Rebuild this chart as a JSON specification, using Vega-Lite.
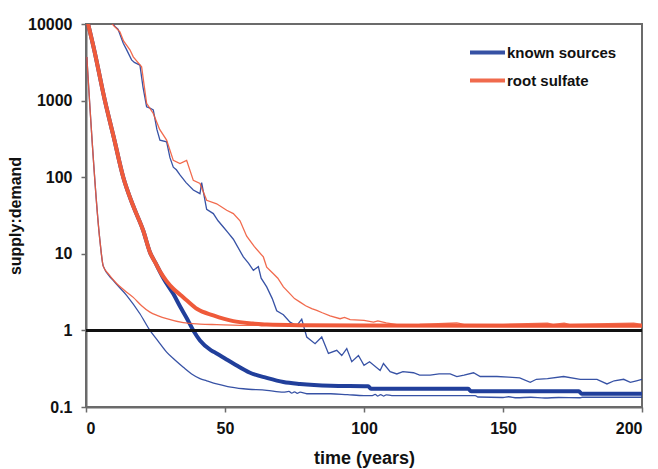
{
  "$schema": "https://vega.github.io/schema/vega-lite/v6.json",
  "width": 556,
  "height": 383,
  "autosize": {"type": "none"},
  "padding": {"left": 86, "top": 24, "right": 16, "bottom": 62},
  "background": "white",
  "config": {
    "font": "Liberation Sans",
    "view": {"stroke": "#6b6b6b", "strokeWidth": 2},
    "axis": {
      "grid": false,
      "domainColor": "#6b6b6b",
      "domainWidth": 2,
      "tickColor": "#6b6b6b",
      "tickWidth": 1.5,
      "tickSize": 5,
      "labelFont": "Liberation Sans",
      "labelFontSize": 16,
      "labelFontWeight": "bold",
      "labelColor": "#111",
      "titleFont": "Liberation Sans",
      "titleFontWeight": "bold",
      "titleColor": "#111"
    },
    "legend": {
      "labelFont": "Liberation Sans",
      "labelFontSize": 15,
      "labelFontWeight": "bold",
      "labelColor": "#111"
    }
  },
  "data": {
    "values": [
      {"g": "known sources", "k": "median", "t": 0, "v": 13000},
      {"g": "known sources", "k": "median", "t": 3, "v": 4500},
      {"g": "known sources", "k": "median", "t": 6.8, "v": 1000},
      {"g": "known sources", "k": "median", "t": 10, "v": 330},
      {"g": "known sources", "k": "median", "t": 13.4, "v": 100},
      {"g": "known sources", "k": "median", "t": 17, "v": 42},
      {"g": "known sources", "k": "median", "t": 20.6, "v": 20},
      {"g": "known sources", "k": "median", "t": 23, "v": 10.5},
      {"g": "known sources", "k": "median", "t": 25, "v": 7.6},
      {"g": "known sources", "k": "median", "t": 28, "v": 4.7},
      {"g": "known sources", "k": "median", "t": 31.4, "v": 3.0},
      {"g": "known sources", "k": "median", "t": 34, "v": 2.0},
      {"g": "known sources", "k": "median", "t": 36.2, "v": 1.45},
      {"g": "known sources", "k": "median", "t": 38.6, "v": 1.0},
      {"g": "known sources", "k": "median", "t": 41, "v": 0.74},
      {"g": "known sources", "k": "median", "t": 45, "v": 0.55},
      {"g": "known sources", "k": "median", "t": 47, "v": 0.5},
      {"g": "known sources", "k": "median", "t": 50, "v": 0.43},
      {"g": "known sources", "k": "median", "t": 53, "v": 0.37},
      {"g": "known sources", "k": "median", "t": 59, "v": 0.28},
      {"g": "known sources", "k": "median", "t": 65, "v": 0.24},
      {"g": "known sources", "k": "median", "t": 71, "v": 0.212},
      {"g": "known sources", "k": "median", "t": 77, "v": 0.2},
      {"g": "known sources", "k": "median", "t": 88, "v": 0.19},
      {"g": "known sources", "k": "median", "t": 101.5, "v": 0.187},
      {"g": "known sources", "k": "median", "t": 102.5, "v": 0.173},
      {"g": "known sources", "k": "median", "t": 137.5, "v": 0.173},
      {"g": "known sources", "k": "median", "t": 138.5, "v": 0.16},
      {"g": "known sources", "k": "median", "t": 177.3, "v": 0.16},
      {"g": "known sources", "k": "median", "t": 178.3, "v": 0.149},
      {"g": "known sources", "k": "median", "t": 200, "v": 0.149},

      {"g": "known sources", "k": "lower", "t": 0.3, "v": 3700},
      {"g": "known sources", "k": "lower", "t": 5, "v": 15},
      {"g": "known sources", "k": "lower", "t": 6.2, "v": 6.9},
      {"g": "known sources", "k": "lower", "t": 9.8, "v": 4.5},
      {"g": "known sources", "k": "lower", "t": 14.6, "v": 2.87},
      {"g": "known sources", "k": "lower", "t": 19.4, "v": 1.65},
      {"g": "known sources", "k": "lower", "t": 23, "v": 1.0},
      {"g": "known sources", "k": "lower", "t": 26, "v": 0.72},
      {"g": "known sources", "k": "lower", "t": 29, "v": 0.52},
      {"g": "known sources", "k": "lower", "t": 32, "v": 0.41},
      {"g": "known sources", "k": "lower", "t": 35, "v": 0.33},
      {"g": "known sources", "k": "lower", "t": 38, "v": 0.27},
      {"g": "known sources", "k": "lower", "t": 41, "v": 0.235},
      {"g": "known sources", "k": "lower", "t": 43.4, "v": 0.22},
      {"g": "known sources", "k": "lower", "t": 47, "v": 0.2},
      {"g": "known sources", "k": "lower", "t": 51, "v": 0.185},
      {"g": "known sources", "k": "lower", "t": 56.6, "v": 0.173},
      {"g": "known sources", "k": "lower", "t": 65, "v": 0.165},
      {"g": "known sources", "k": "lower", "t": 71, "v": 0.156},
      {"g": "known sources", "k": "lower", "t": 73, "v": 0.16},
      {"g": "known sources", "k": "lower", "t": 74, "v": 0.152},
      {"g": "known sources", "k": "lower", "t": 75, "v": 0.158},
      {"g": "known sources", "k": "lower", "t": 76, "v": 0.151},
      {"g": "known sources", "k": "lower", "t": 77, "v": 0.156},
      {"g": "known sources", "k": "lower", "t": 79.4, "v": 0.149},
      {"g": "known sources", "k": "lower", "t": 88, "v": 0.149},
      {"g": "known sources", "k": "lower", "t": 94, "v": 0.145},
      {"g": "known sources", "k": "lower", "t": 100, "v": 0.141},
      {"g": "known sources", "k": "lower", "t": 103, "v": 0.141},
      {"g": "known sources", "k": "lower", "t": 104, "v": 0.146},
      {"g": "known sources", "k": "lower", "t": 105, "v": 0.139},
      {"g": "known sources", "k": "lower", "t": 106, "v": 0.145},
      {"g": "known sources", "k": "lower", "t": 107, "v": 0.139},
      {"g": "known sources", "k": "lower", "t": 108, "v": 0.144},
      {"g": "known sources", "k": "lower", "t": 110, "v": 0.141},
      {"g": "known sources", "k": "lower", "t": 140, "v": 0.141},
      {"g": "known sources", "k": "lower", "t": 141, "v": 0.135},
      {"g": "known sources", "k": "lower", "t": 150, "v": 0.133},
      {"g": "known sources", "k": "lower", "t": 152, "v": 0.136},
      {"g": "known sources", "k": "lower", "t": 155, "v": 0.132},
      {"g": "known sources", "k": "lower", "t": 160, "v": 0.134},
      {"g": "known sources", "k": "lower", "t": 165, "v": 0.131},
      {"g": "known sources", "k": "lower", "t": 170, "v": 0.133},
      {"g": "known sources", "k": "lower", "t": 177.5, "v": 0.132},
      {"g": "known sources", "k": "lower", "t": 178.5, "v": 0.134},
      {"g": "known sources", "k": "lower", "t": 200, "v": 0.134},

      {"g": "known sources", "k": "upper", "t": 9.3, "v": 10500},
      {"g": "known sources", "k": "upper", "t": 10.4, "v": 9300},
      {"g": "known sources", "k": "upper", "t": 11.5, "v": 8600},
      {"g": "known sources", "k": "upper", "t": 13.4, "v": 5600},
      {"g": "known sources", "k": "upper", "t": 14.5, "v": 4700},
      {"g": "known sources", "k": "upper", "t": 16.4, "v": 3400},
      {"g": "known sources", "k": "upper", "t": 17.4, "v": 3150},
      {"g": "known sources", "k": "upper", "t": 19.4, "v": 2900},
      {"g": "known sources", "k": "upper", "t": 20.5, "v": 1500},
      {"g": "known sources", "k": "upper", "t": 21.8, "v": 830},
      {"g": "known sources", "k": "upper", "t": 23, "v": 800},
      {"g": "known sources", "k": "upper", "t": 24.2, "v": 755},
      {"g": "known sources", "k": "upper", "t": 25.5, "v": 420},
      {"g": "known sources", "k": "upper", "t": 26.6, "v": 305},
      {"g": "known sources", "k": "upper", "t": 29, "v": 290},
      {"g": "known sources", "k": "upper", "t": 30.2, "v": 180},
      {"g": "known sources", "k": "upper", "t": 31.4, "v": 135},
      {"g": "known sources", "k": "upper", "t": 32.5, "v": 125},
      {"g": "known sources", "k": "upper", "t": 33.8, "v": 107},
      {"g": "known sources", "k": "upper", "t": 36, "v": 85},
      {"g": "known sources", "k": "upper", "t": 38.6, "v": 68},
      {"g": "known sources", "k": "upper", "t": 41, "v": 61},
      {"g": "known sources", "k": "upper", "t": 41.6, "v": 85},
      {"g": "known sources", "k": "upper", "t": 43.4, "v": 38},
      {"g": "known sources", "k": "upper", "t": 45.8, "v": 33.5},
      {"g": "known sources", "k": "upper", "t": 47.5, "v": 27},
      {"g": "known sources", "k": "upper", "t": 49.4, "v": 22.4},
      {"g": "known sources", "k": "upper", "t": 51, "v": 19},
      {"g": "known sources", "k": "upper", "t": 53, "v": 15.5},
      {"g": "known sources", "k": "upper", "t": 56.6, "v": 9.1},
      {"g": "known sources", "k": "upper", "t": 58.5, "v": 7.5},
      {"g": "known sources", "k": "upper", "t": 60.2, "v": 6.1},
      {"g": "known sources", "k": "upper", "t": 62, "v": 6.8},
      {"g": "known sources", "k": "upper", "t": 63, "v": 4.8},
      {"g": "known sources", "k": "upper", "t": 65, "v": 3.7},
      {"g": "known sources", "k": "upper", "t": 67, "v": 2.6},
      {"g": "known sources", "k": "upper", "t": 68.6, "v": 1.8},
      {"g": "known sources", "k": "upper", "t": 71, "v": 1.6},
      {"g": "known sources", "k": "upper", "t": 73.4, "v": 1.28},
      {"g": "known sources", "k": "upper", "t": 75.8, "v": 1.15},
      {"g": "known sources", "k": "upper", "t": 77.6, "v": 1.4},
      {"g": "known sources", "k": "upper", "t": 79.4, "v": 0.82},
      {"g": "known sources", "k": "upper", "t": 82.4, "v": 0.67},
      {"g": "known sources", "k": "upper", "t": 84.8, "v": 0.82},
      {"g": "known sources", "k": "upper", "t": 87.2, "v": 0.5},
      {"g": "known sources", "k": "upper", "t": 90.2, "v": 0.55},
      {"g": "known sources", "k": "upper", "t": 92, "v": 0.47},
      {"g": "known sources", "k": "upper", "t": 93.8, "v": 0.58},
      {"g": "known sources", "k": "upper", "t": 95.6, "v": 0.39},
      {"g": "known sources", "k": "upper", "t": 98, "v": 0.47},
      {"g": "known sources", "k": "upper", "t": 100, "v": 0.35},
      {"g": "known sources", "k": "upper", "t": 102, "v": 0.39},
      {"g": "known sources", "k": "upper", "t": 105.8, "v": 0.3},
      {"g": "known sources", "k": "upper", "t": 107, "v": 0.37},
      {"g": "known sources", "k": "upper", "t": 109.4, "v": 0.29},
      {"g": "known sources", "k": "upper", "t": 111.8, "v": 0.27},
      {"g": "known sources", "k": "upper", "t": 114, "v": 0.29},
      {"g": "known sources", "k": "upper", "t": 117.8, "v": 0.28},
      {"g": "known sources", "k": "upper", "t": 120, "v": 0.26},
      {"g": "known sources", "k": "upper", "t": 123.8, "v": 0.26},
      {"g": "known sources", "k": "upper", "t": 127, "v": 0.27},
      {"g": "known sources", "k": "upper", "t": 131, "v": 0.27},
      {"g": "known sources", "k": "upper", "t": 133.4, "v": 0.25},
      {"g": "known sources", "k": "upper", "t": 136, "v": 0.26},
      {"g": "known sources", "k": "upper", "t": 139.4, "v": 0.28},
      {"g": "known sources", "k": "upper", "t": 141.8, "v": 0.25},
      {"g": "known sources", "k": "upper", "t": 147.8, "v": 0.25},
      {"g": "known sources", "k": "upper", "t": 152, "v": 0.245},
      {"g": "known sources", "k": "upper", "t": 156, "v": 0.24},
      {"g": "known sources", "k": "upper", "t": 159.8, "v": 0.21},
      {"g": "known sources", "k": "upper", "t": 162, "v": 0.23},
      {"g": "known sources", "k": "upper", "t": 166, "v": 0.235},
      {"g": "known sources", "k": "upper", "t": 171.8, "v": 0.25},
      {"g": "known sources", "k": "upper", "t": 177.8, "v": 0.23},
      {"g": "known sources", "k": "upper", "t": 183.8, "v": 0.23},
      {"g": "known sources", "k": "upper", "t": 187.4, "v": 0.2},
      {"g": "known sources", "k": "upper", "t": 190, "v": 0.22},
      {"g": "known sources", "k": "upper", "t": 193.4, "v": 0.23},
      {"g": "known sources", "k": "upper", "t": 195.8, "v": 0.21},
      {"g": "known sources", "k": "upper", "t": 198, "v": 0.22},
      {"g": "known sources", "k": "upper", "t": 200, "v": 0.23},

      {"g": "root sulfate", "k": "median", "t": 0, "v": 13000},
      {"g": "root sulfate", "k": "median", "t": 3, "v": 4500},
      {"g": "root sulfate", "k": "median", "t": 6.8, "v": 1000},
      {"g": "root sulfate", "k": "median", "t": 10, "v": 330},
      {"g": "root sulfate", "k": "median", "t": 13.4, "v": 100},
      {"g": "root sulfate", "k": "median", "t": 17, "v": 42},
      {"g": "root sulfate", "k": "median", "t": 20.6, "v": 20},
      {"g": "root sulfate", "k": "median", "t": 23, "v": 10.5},
      {"g": "root sulfate", "k": "median", "t": 25, "v": 7.6},
      {"g": "root sulfate", "k": "median", "t": 27, "v": 5.6},
      {"g": "root sulfate", "k": "median", "t": 29, "v": 4.4},
      {"g": "root sulfate", "k": "median", "t": 31.4, "v": 3.5},
      {"g": "root sulfate", "k": "median", "t": 34, "v": 2.9},
      {"g": "root sulfate", "k": "median", "t": 36.2, "v": 2.47},
      {"g": "root sulfate", "k": "median", "t": 40, "v": 1.9},
      {"g": "root sulfate", "k": "median", "t": 45.8, "v": 1.57},
      {"g": "root sulfate", "k": "median", "t": 53, "v": 1.32},
      {"g": "root sulfate", "k": "median", "t": 60, "v": 1.23},
      {"g": "root sulfate", "k": "median", "t": 65, "v": 1.19},
      {"g": "root sulfate", "k": "median", "t": 77, "v": 1.17},
      {"g": "root sulfate", "k": "median", "t": 100, "v": 1.16},
      {"g": "root sulfate", "k": "median", "t": 200, "v": 1.15},

      {"g": "root sulfate", "k": "lower", "t": 0.3, "v": 3700},
      {"g": "root sulfate", "k": "lower", "t": 5, "v": 15},
      {"g": "root sulfate", "k": "lower", "t": 6.2, "v": 6.9},
      {"g": "root sulfate", "k": "lower", "t": 8, "v": 5.5},
      {"g": "root sulfate", "k": "lower", "t": 11, "v": 4.1},
      {"g": "root sulfate", "k": "lower", "t": 14, "v": 3.3},
      {"g": "root sulfate", "k": "lower", "t": 17, "v": 2.7},
      {"g": "root sulfate", "k": "lower", "t": 20, "v": 2.1},
      {"g": "root sulfate", "k": "lower", "t": 23, "v": 1.73},
      {"g": "root sulfate", "k": "lower", "t": 26, "v": 1.55},
      {"g": "root sulfate", "k": "lower", "t": 29, "v": 1.42},
      {"g": "root sulfate", "k": "lower", "t": 35, "v": 1.26},
      {"g": "root sulfate", "k": "lower", "t": 41, "v": 1.21},
      {"g": "root sulfate", "k": "lower", "t": 47, "v": 1.19},
      {"g": "root sulfate", "k": "lower", "t": 60, "v": 1.16},
      {"g": "root sulfate", "k": "lower", "t": 200, "v": 1.15},

      {"g": "root sulfate", "k": "upper", "t": 9, "v": 10500},
      {"g": "root sulfate", "k": "upper", "t": 10, "v": 9500},
      {"g": "root sulfate", "k": "upper", "t": 12.2, "v": 7900},
      {"g": "root sulfate", "k": "upper", "t": 13.5, "v": 6000},
      {"g": "root sulfate", "k": "upper", "t": 15.8, "v": 4600},
      {"g": "root sulfate", "k": "upper", "t": 17, "v": 3720},
      {"g": "root sulfate", "k": "upper", "t": 20, "v": 2770},
      {"g": "root sulfate", "k": "upper", "t": 21.8, "v": 920},
      {"g": "root sulfate", "k": "upper", "t": 24.2, "v": 680},
      {"g": "root sulfate", "k": "upper", "t": 26.5, "v": 420},
      {"g": "root sulfate", "k": "upper", "t": 29, "v": 305},
      {"g": "root sulfate", "k": "upper", "t": 31.4, "v": 166},
      {"g": "root sulfate", "k": "upper", "t": 33.8, "v": 151},
      {"g": "root sulfate", "k": "upper", "t": 36.2, "v": 166},
      {"g": "root sulfate", "k": "upper", "t": 38.6, "v": 91},
      {"g": "root sulfate", "k": "upper", "t": 41, "v": 83},
      {"g": "root sulfate", "k": "upper", "t": 43.4, "v": 50},
      {"g": "root sulfate", "k": "upper", "t": 47, "v": 45},
      {"g": "root sulfate", "k": "upper", "t": 50.6, "v": 37},
      {"g": "root sulfate", "k": "upper", "t": 53, "v": 33.5},
      {"g": "root sulfate", "k": "upper", "t": 55.4, "v": 27},
      {"g": "root sulfate", "k": "upper", "t": 57.8, "v": 17},
      {"g": "root sulfate", "k": "upper", "t": 60.5, "v": 12.5},
      {"g": "root sulfate", "k": "upper", "t": 63.8, "v": 9.1},
      {"g": "root sulfate", "k": "upper", "t": 65, "v": 6.7},
      {"g": "root sulfate", "k": "upper", "t": 67.4, "v": 5.5},
      {"g": "root sulfate", "k": "upper", "t": 69, "v": 4.8},
      {"g": "root sulfate", "k": "upper", "t": 71, "v": 3.7},
      {"g": "root sulfate", "k": "upper", "t": 73.4, "v": 3.0},
      {"g": "root sulfate", "k": "upper", "t": 75, "v": 2.6},
      {"g": "root sulfate", "k": "upper", "t": 77, "v": 2.34},
      {"g": "root sulfate", "k": "upper", "t": 79, "v": 2.1},
      {"g": "root sulfate", "k": "upper", "t": 81.2, "v": 1.92},
      {"g": "root sulfate", "k": "upper", "t": 83, "v": 1.83},
      {"g": "root sulfate", "k": "upper", "t": 85, "v": 1.7},
      {"g": "root sulfate", "k": "upper", "t": 87.8, "v": 1.55},
      {"g": "root sulfate", "k": "upper", "t": 91.4, "v": 1.42},
      {"g": "root sulfate", "k": "upper", "t": 93, "v": 1.48},
      {"g": "root sulfate", "k": "upper", "t": 95, "v": 1.38},
      {"g": "root sulfate", "k": "upper", "t": 100, "v": 1.35},
      {"g": "root sulfate", "k": "upper", "t": 103.4, "v": 1.28},
      {"g": "root sulfate", "k": "upper", "t": 105, "v": 1.33},
      {"g": "root sulfate", "k": "upper", "t": 108, "v": 1.25},
      {"g": "root sulfate", "k": "upper", "t": 111.8, "v": 1.19},
      {"g": "root sulfate", "k": "upper", "t": 120, "v": 1.2},
      {"g": "root sulfate", "k": "upper", "t": 133.4, "v": 1.25},
      {"g": "root sulfate", "k": "upper", "t": 136, "v": 1.2},
      {"g": "root sulfate", "k": "upper", "t": 150, "v": 1.2},
      {"g": "root sulfate", "k": "upper", "t": 166, "v": 1.24},
      {"g": "root sulfate", "k": "upper", "t": 168, "v": 1.2},
      {"g": "root sulfate", "k": "upper", "t": 172, "v": 1.24},
      {"g": "root sulfate", "k": "upper", "t": 174, "v": 1.2},
      {"g": "root sulfate", "k": "upper", "t": 197, "v": 1.24},
      {"g": "root sulfate", "k": "upper", "t": 200, "v": 1.2}
    ]
  },
  "layer": [
    {
      "transform": [{"filter": "datum.g === 'known sources' && datum.k === 'upper'"}],
      "mark": {"type": "line", "clip": true, "strokeWidth": 1.3, "opacity": 0.9},
      "encoding": {
        "x": {
          "field": "t",
          "type": "quantitative",
          "scale": {"domain": [0, 200], "nice": false},
          "axis": {
            "values": [0, 50, 100, 150, 200],
            "format": "d",
            "title": "time (years)",
            "titleFontSize": 18,
            "labelPadding": 8,
            "titlePadding": 13
          }
        },
        "y": {
          "field": "v",
          "type": "quantitative",
          "scale": {"type": "log", "domain": [0.1, 10000], "nice": false},
          "axis": {
            "values": [0.1, 1, 10, 100, 1000, 10000],
            "format": "~g",
            "title": "supply:demand",
            "titleFontSize": 16,
            "labelPadding": 9,
            "titlePadding": 4
          }
        },
        "color": {
          "field": "g",
          "type": "nominal",
          "scale": {"domain": ["known sources", "root sulfate"], "range": ["#213f9b", "#ef5a3a"]},
          "legend": {
            "title": null,
            "orient": "none",
            "legendX": 382,
            "legendY": 9,
            "symbolType": "stroke",
            "symbolSize": 1225,
            "symbolStrokeWidth": 4,
            "symbolOpacity": 1,
            "labelOffset": 0,
            "rowPadding": -1
          }
        }
      }
    },
    {
      "transform": [{"filter": "datum.g === 'known sources' && datum.k === 'lower'"}],
      "mark": {"type": "line", "clip": true, "strokeWidth": 1.3, "opacity": 0.9, "interpolate": "monotone"},
      "encoding": {
        "x": {"field": "t", "type": "quantitative"},
        "y": {"field": "v", "type": "quantitative"},
        "color": {"field": "g", "type": "nominal"}
      }
    },
    {
      "transform": [{"filter": "datum.g === 'known sources' && datum.k === 'median'"}],
      "mark": {"type": "line", "clip": true, "strokeWidth": 4, "interpolate": "monotone"},
      "encoding": {
        "x": {"field": "t", "type": "quantitative"},
        "y": {"field": "v", "type": "quantitative"},
        "color": {"field": "g", "type": "nominal"}
      }
    },
    {
      "transform": [{"filter": "datum.g === 'root sulfate' && datum.k === 'upper'"}],
      "mark": {"type": "line", "clip": true, "strokeWidth": 1.3, "opacity": 0.9},
      "encoding": {
        "x": {"field": "t", "type": "quantitative"},
        "y": {"field": "v", "type": "quantitative"},
        "color": {"field": "g", "type": "nominal"}
      }
    },
    {
      "transform": [{"filter": "datum.g === 'root sulfate' && datum.k === 'lower'"}],
      "mark": {"type": "line", "clip": true, "strokeWidth": 1.3, "opacity": 0.9, "interpolate": "monotone"},
      "encoding": {
        "x": {"field": "t", "type": "quantitative"},
        "y": {"field": "v", "type": "quantitative"},
        "color": {"field": "g", "type": "nominal"}
      }
    },
    {
      "transform": [{"filter": "datum.g === 'root sulfate' && datum.k === 'median'"}],
      "mark": {"type": "line", "clip": true, "strokeWidth": 4, "interpolate": "monotone"},
      "encoding": {
        "x": {"field": "t", "type": "quantitative"},
        "y": {"field": "v", "type": "quantitative"},
        "color": {"field": "g", "type": "nominal"}
      }
    },
    {
      "mark": {"type": "rule", "color": "#111", "strokeWidth": 1.5},
      "encoding": {"y": {"datum": 1}}
    }
  ]
}
